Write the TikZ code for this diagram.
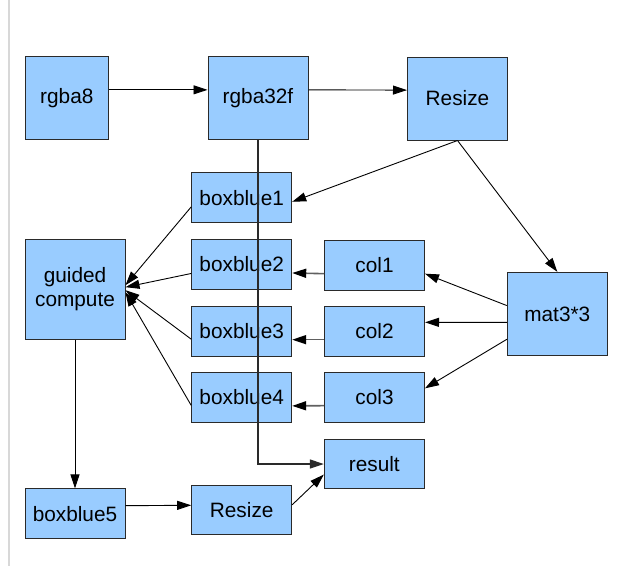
\documentclass[tikz,border=0pt]{standalone}
\usepackage{fontspec}
\setmainfont{Liberation Sans}
\usetikzlibrary{arrows.meta,calc}
\definecolor{boxfill}{HTML}{99CCFF}
\definecolor{boxline}{HTML}{2A2A2A}
\definecolor{frameline}{HTML}{D8D8D8}
\definecolor{grayline}{HTML}{606060}
\tikzset{
  blk/.style={draw=boxline, fill=boxfill, line width=1pt, inner sep=0pt, font=\fontsize{20.8}{24}\selectfont, align=center},
  arr/.style={draw=black, line width=0.9pt, -{Triangle[length={14pt 0},width={9pt 0}]}},
  garr/.style={draw=grayline, line width=1.6pt, -{Triangle[length={14pt 0},width={9pt 0},color=black]}}
}
\begin{document}
\begin{tikzpicture}[x=1pt,y=-1pt]
\useasboundingbox (0,0) rectangle (638,566);
\draw[frameline, line width=2pt] (9,0) -- (9,566);
% nodes
\node[blk, minimum width=83.5pt, minimum height=82.5pt] (rgba8) at (66.8,98.2) {rgba8};
\node[blk, minimum width=100pt, minimum height=82.5pt] (rgba32f) at (258,98.2) {rgba32f};
\node[blk, minimum width=100pt, minimum height=83pt] (resizeA) at (457.5,98.5) {Resize};
\node[blk, minimum width=100pt, minimum height=50pt] (bb1) at (241.7,197.7) {boxblue1};
\node[blk, minimum width=100pt, minimum height=50pt] (bb2) at (241.7,264.3) {boxblue2};
\node[blk, minimum width=100pt, minimum height=50pt] (bb3) at (241.7,331) {boxblue3};
\node[blk, minimum width=100pt, minimum height=50pt] (bb4) at (241.7,397.2) {boxblue4};
\node[blk, minimum width=100pt, minimum height=100pt] (guided) at (75,289.2) {guided\\compute};
\node[blk, minimum width=100pt, minimum height=50pt] (col1) at (374.5,265) {col1};
\node[blk, minimum width=100pt, minimum height=50pt] (col2) at (374.5,331) {col2};
\node[blk, minimum width=100pt, minimum height=50pt] (col3) at (374.5,397) {col3};
\node[blk, minimum width=100pt, minimum height=49.4pt] (result) at (374.3,464) {result};
\node[blk, minimum width=100pt, minimum height=83.4pt] (mat) at (557.3,314) {mat3*3};
\node[blk, minimum width=100pt, minimum height=49.7pt] (bb5) at (75,513.8) {boxblue5};
\node[blk, minimum width=100pt, minimum height=49.3pt] (resizeB) at (241.7,510.3) {Resize};
% connectors
\draw[arr] ($(rgba8.north east)!0.4!(rgba8.south east)$) -- ($(rgba32f.north west)!0.4!(rgba32f.south west)$);
\draw[arr] ($(rgba32f.north east)!0.4!(rgba32f.south east)$) -- ($(resizeA.north west)!0.4!(resizeA.south west)$);
\draw[arr] (resizeA.south) -- ($(bb1.north east)!0.58!(bb1.south east)$);
\draw[arr] (resizeA.south) -- (mat.north);
\draw[arr] ($(mat.north west)!0.4!(mat.south west)$) -- ($(col1.north east)!0.67!(col1.south east)$);
\draw[arr] ($(mat.north west)!0.6!(mat.south west)$) -- ($(col2.north east)!0.33!(col2.south east)$);
\draw[arr] ($(mat.north west)!0.8!(mat.south west)$) -- ($(col3.north east)!0.33!(col3.south east)$);
\draw[garr] ($(col1.north west)!0.67!(col1.south west)$) -- ($(bb2.north east)!0.67!(bb2.south east)$);
\draw[garr] ($(col2.north west)!0.67!(col2.south west)$) -- ($(bb3.north east)!0.67!(bb3.south east)$);
\draw[garr] ($(col3.north west)!0.67!(col3.south west)$) -- ($(bb4.north east)!0.67!(bb4.south east)$);
\draw[arr] ($(bb1.north west)!0.68!(bb1.south west)$) -- ($(guided.north east)!0.46!(guided.south east)$);
\draw[arr] ($(bb2.north west)!0.68!(bb2.south west)$) -- ($(guided.north east)!0.48!(guided.south east)$);
\draw[arr] ($(bb3.north west)!0.66!(bb3.south west)$) -- ($(guided.north east)!0.51!(guided.south east)$);
\draw[arr] ($(bb4.north west)!0.66!(bb4.south west)$) -- ($(guided.north east)!0.53!(guided.south east)$);
\draw[arr] (guided.south) -- (bb5.north);
\draw[arr] ($(bb5.north east)!0.34!(bb5.south east)$) -- ($(resizeB.north west)!0.4!(resizeB.south west)$);
\draw[arr] ($(resizeB.north east)!0.39!(resizeB.south east)$) -- ($(result.north west)!0.71!(result.south west)$);
\draw[draw=boxline, line width=1.2pt, -{Triangle[length={14pt 0},width={9pt 0}]}] (rgba32f.south) |- (result.west);
\end{tikzpicture}
\end{document}
